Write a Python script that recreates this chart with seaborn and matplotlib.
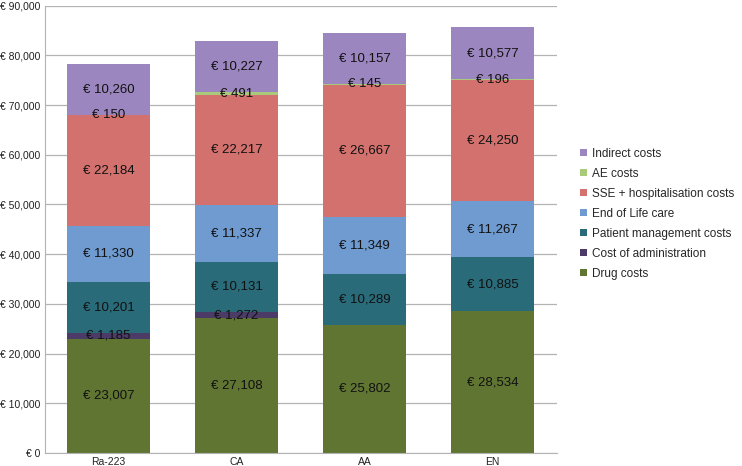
import numpy as np
import pandas as pd
import seaborn as sns
import matplotlib.pyplot as plt

treatments = ['Ra-223', 'CA', 'AA', 'EN']
components = ['Drug costs', 'Cost of administration', 'Patient management costs',
              'End of Life care', 'SSE + hospitalisation costs', 'AE costs', 'Indirect costs']

drug = [23007, 27108, 25802, 28534]
admin = [1185, 1272, 0, 0]
patient_mgmt = [10201, 10131, 10289, 10885]
end_of_life = [11330, 11337, 11349, 11267]
sse_hosp = [22184, 22217, 26667, 24250]
ae = [150, 491, 145, 196]
indirect = [10260, 10227, 10157, 10577]

colors = ['#617532', '#4b3b66', '#2a6b7a', '#6f9bd0', '#d2716d', '#a9c97b', '#9c86bf']

df = pd.DataFrame({'treatment': treatments, 'Drug costs': drug,
                   'Cost of administration': admin, 'Patient management costs': patient_mgmt,
                   'End of Life care': end_of_life, 'SSE + hospitalisation costs': sse_hosp,
                   'AE costs': ae, 'Indirect costs': indirect})
long = df.melt(id_vars='treatment', var_name='component', value_name='cost')

sns.set_style('white')
plt.rcParams['font.family'] = ['Liberation Sans', 'DejaVu Sans']

fig, ax = plt.subplots(figsize=(7.42, 4.66), dpi=100)
fig.subplots_adjust(left=0.06, right=0.75, top=0.988, bottom=0.028)

bottom = np.zeros(len(treatments))
for comp, col in zip(components, colors):
    vals = np.array(df[comp], dtype=float)
    part = long[long.component == comp]
    sns.barplot(data=part, x='treatment', y='cost', color=col, ax=ax,
                width=0.645, bottom=bottom, label=comp, saturation=1, linewidth=0)
    for i, v in enumerate(vals):
        if v <= 0:
            continue
        ax.text(i, bottom[i] + v / 2, f'€ {int(v):,}', ha='center', va='center',
                fontsize=9.5, color='#111111')
    bottom += vals

ax.set_ylim(0, 90000)
ax.set_xlim(-0.5, 3.5)
ax.set_yticks(range(0, 90001, 10000))
ax.set_yticklabels([f'€ {v:,}' if v else '€ 0' for v in range(0, 90001, 10000)])
ax.yaxis.grid(True, color='#b3b3b3', linewidth=0.9)
ax.set_axisbelow(True)
ax.set_xlabel('')
ax.set_ylabel('')
ax.tick_params(axis='both', labelsize=7.5, colors='#222222', length=0, pad=3)
for s in ['top', 'right']:
    ax.spines[s].set_visible(False)
ax.spines['left'].set_color('#b3b3b3')
ax.spines['bottom'].set_color('#b3b3b3')

h, l = ax.get_legend_handles_labels()
ax.legend(h[::-1], l[::-1], loc='center left', bbox_to_anchor=(1.025, 0.535), frameon=False,
          fontsize=8.5, handlelength=0.6, handleheight=0.6, handletextpad=0.4,
          labelspacing=0.68)

fig.savefig('out.png', dpi=100)
